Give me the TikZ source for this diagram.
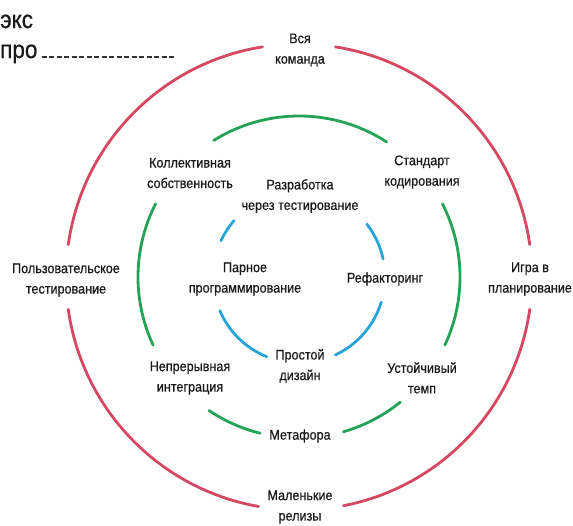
\documentclass[tikz,border=0pt]{standalone}
\usepackage{fontspec}
\setmainfont[FakeStretch=0.9, FakeBold=0.6]{Liberation Sans}
\definecolor{teamred}{RGB}{212,72,98}
\definecolor{codegreen}{RGB}{36,162,86}
\definecolor{pairblue}{RGB}{40,164,214}

\begin{document}
\begin{tikzpicture}[x=1pt, y=1pt,
  lbl/.style={align=center, font=\fontsize{14}{20.5}\selectfont, text=black!90, inner sep=0pt},
  ttl/.style={anchor=base west, font=\fontsize{25}{30}\selectfont, text=black!90, inner sep=0pt},
  ring/.style={line width=2.8pt, line cap=round},
  outer/.style={ring, draw=teamred},
  middle/.style={ring, draw=codegreen},
  inner/.style={ring, draw=pairblue}
]
\useasboundingbox (0,0) rectangle (573,-525);
\coordinate (c) at (299,-277);

% title, mostly covered in the source
\node[ttl] (ttlA) at (0,-28) {экс};
\node[ttl] (ttlB) at (0,-58) {про};
\draw[black!80, line width=2.2pt, dash pattern=on 5pt off 2.5pt] (ttlB.base east) ++(4,1) -- (175,-57);

% rings
\foreach \a/\b in {8/81, 99/172, 188/260, 281/352}
  \draw[outer] ([shift={(\a:233)}]c) arc[start angle=\a, end angle=\b, radius=233pt];
\foreach \a/\b in {57/122, 153/205, 236/256, 286/309, -25/27}
  \draw[middle] ([shift={(\a:161)}]c) arc[start angle=\a, end angle=\b, radius=161pt];
\foreach \a/\b in {139/155, 12/38, -65/-17, 203/248}
  \draw[inner] ([shift={(\a:86)}]c) arc[start angle=\a, end angle=\b, radius=86pt];

% outer ring
\node[lbl] (team) at (300,-50) {Вся\\команда};
\node[lbl] (planning) at (530,-279) {Игра в\\планирование};
\node[lbl] (releases) at (300,-507) {Маленькие\\релизы};
\node[lbl] (usertest) at (66,-280) {Пользовательское\\тестирование};

% middle ring
\node[lbl] (owner) at (190,-173) {Коллективная\\собственность};
\node[lbl] (standard) at (422,-172) {Стандарт\\кодирования};
\node[lbl] (pace) at (422,-378) {Устойчивый\\темп};
\node[lbl] (metaphor) at (300,-436) {Метафора};
\node[lbl] (ci) at (190,-378) {Непрерывная\\интеграция};

% inner ring
\node[lbl] (tdd) at (300,-196) {Разработка\\через тестирование};
\node[lbl] (refactor) at (385,-279) {Рефакторинг};
\node[lbl] (design) at (300,-366) {Простой\\дизайн};
\node[lbl] (pair) at (245,-279) {Парное\\программирование};
\end{tikzpicture}
\end{document}
